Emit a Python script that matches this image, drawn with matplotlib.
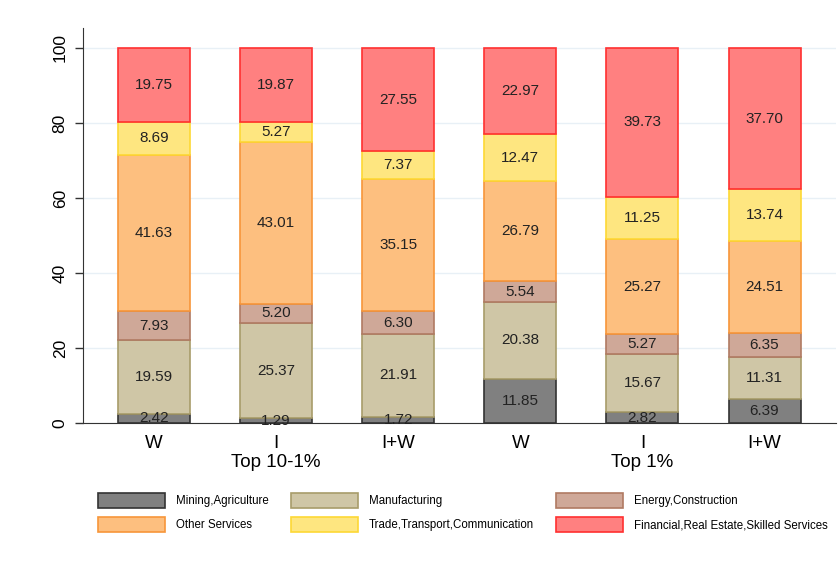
import matplotlib
matplotlib.use("Agg")
import matplotlib.pyplot as plt
import numpy as np

plt.rcParams['font.family'] = ['Liberation Sans', 'DejaVu Sans']

bar_labels = ["W", "I", "I+W", "W", "I", "I+W"]
group_labels = ["Top 10-1%", "Top 1%"]
sectors = ["Mining,Agriculture", "Manufacturing", "Energy,Construction",
           "Other Services", "Trade,Transport,Communication",
           "Financial,Real Estate,Skilled Services"]

mining = [2.42, 1.29, 1.72, 11.85, 2.82, 6.39]
manufacturing = [19.59, 25.37, 21.91, 20.38, 15.67, 11.31]
energy = [7.93, 5.20, 6.30, 5.54, 5.27, 6.35]
other_services = [41.63, 43.01, 35.15, 26.79, 25.27, 24.51]
trade = [8.69, 5.27, 7.37, 12.47, 11.25, 13.74]
financial = [19.75, 19.87, 27.55, 22.97, 39.73, 37.70]

series = [mining, manufacturing, energy, other_services, trade, financial]
fills = ["#808080", "#cfc6a6", "#cfa898", "#fdbf7f", "#fee680", "#ff8080"]
edges = ["#333333", "#a89c6a", "#b07a62", "#f7963a", "#fdd835", "#ff3030"]

fig = plt.figure(figsize=(8.4, 5.68), dpi=100)
ax = fig.add_axes([83/840, 1 - 423/568, (836 - 83)/840, (423 - 28)/568])

x = np.arange(len(bar_labels))
bottom = np.zeros(len(bar_labels))
handles = []
for vals, fc, ec, name in zip(series, fills, edges, sectors):
    v = np.array(vals)
    h = ax.bar(x, v, bottom=bottom, width=0.59, color=fc, edgecolor=ec,
               linewidth=1.2, label=name, zorder=3)
    handles.append(h)
    for xi, b, vi in zip(x, bottom, v):
        ax.text(xi, b + vi / 2, f"{vi:.2f}", ha="center", va="center",
                fontsize=11, color="#222222", zorder=4)
    bottom += v

ax.set_xlim(-0.581, 5.585)
ax.set_ylim(0, 100 * (423 - 28) / 375)
ax.set_yticks([0, 20, 40, 60, 80, 100])
ax.set_yticklabels(["0", "20", "40", "60", "80", "100"], rotation=90,
                   va="center", fontsize=12.5)
ax.set_xticks(x)
ax.set_xticklabels(bar_labels, fontsize=13.5)
ax.tick_params(axis="x", length=0, pad=9)
ax.tick_params(axis="y", length=5.5, width=1, color="#333333", pad=5.5)
ax.yaxis.grid(True, color="#e8f0f6", linewidth=1, zorder=0)
ax.set_axisbelow(True)
for s in ["top", "right"]:
    ax.spines[s].set_visible(False)
ax.spines["left"].set_color("#333333")
ax.spines["bottom"].set_color("#333333")

for gx, gl in zip([1, 4], group_labels):
    ax.text(gx, -10.6, gl, ha="center", va="center", fontsize=13.5,
            clip_on=False)

order = [0, 3, 1, 4, 2, 5]
leg = fig.legend([handles[i] for i in order], [sectors[i] for i in order],
                 ncol=3, loc="center", bbox_to_anchor=(0.551, 1 - 512.5/568),
                 frameon=False, fontsize=8.3, handlelength=5.8, handleheight=1.65,
                 handletextpad=0.95, labelspacing=0.78, columnspacing=1.9)

fig.savefig("out.png", dpi=100)
